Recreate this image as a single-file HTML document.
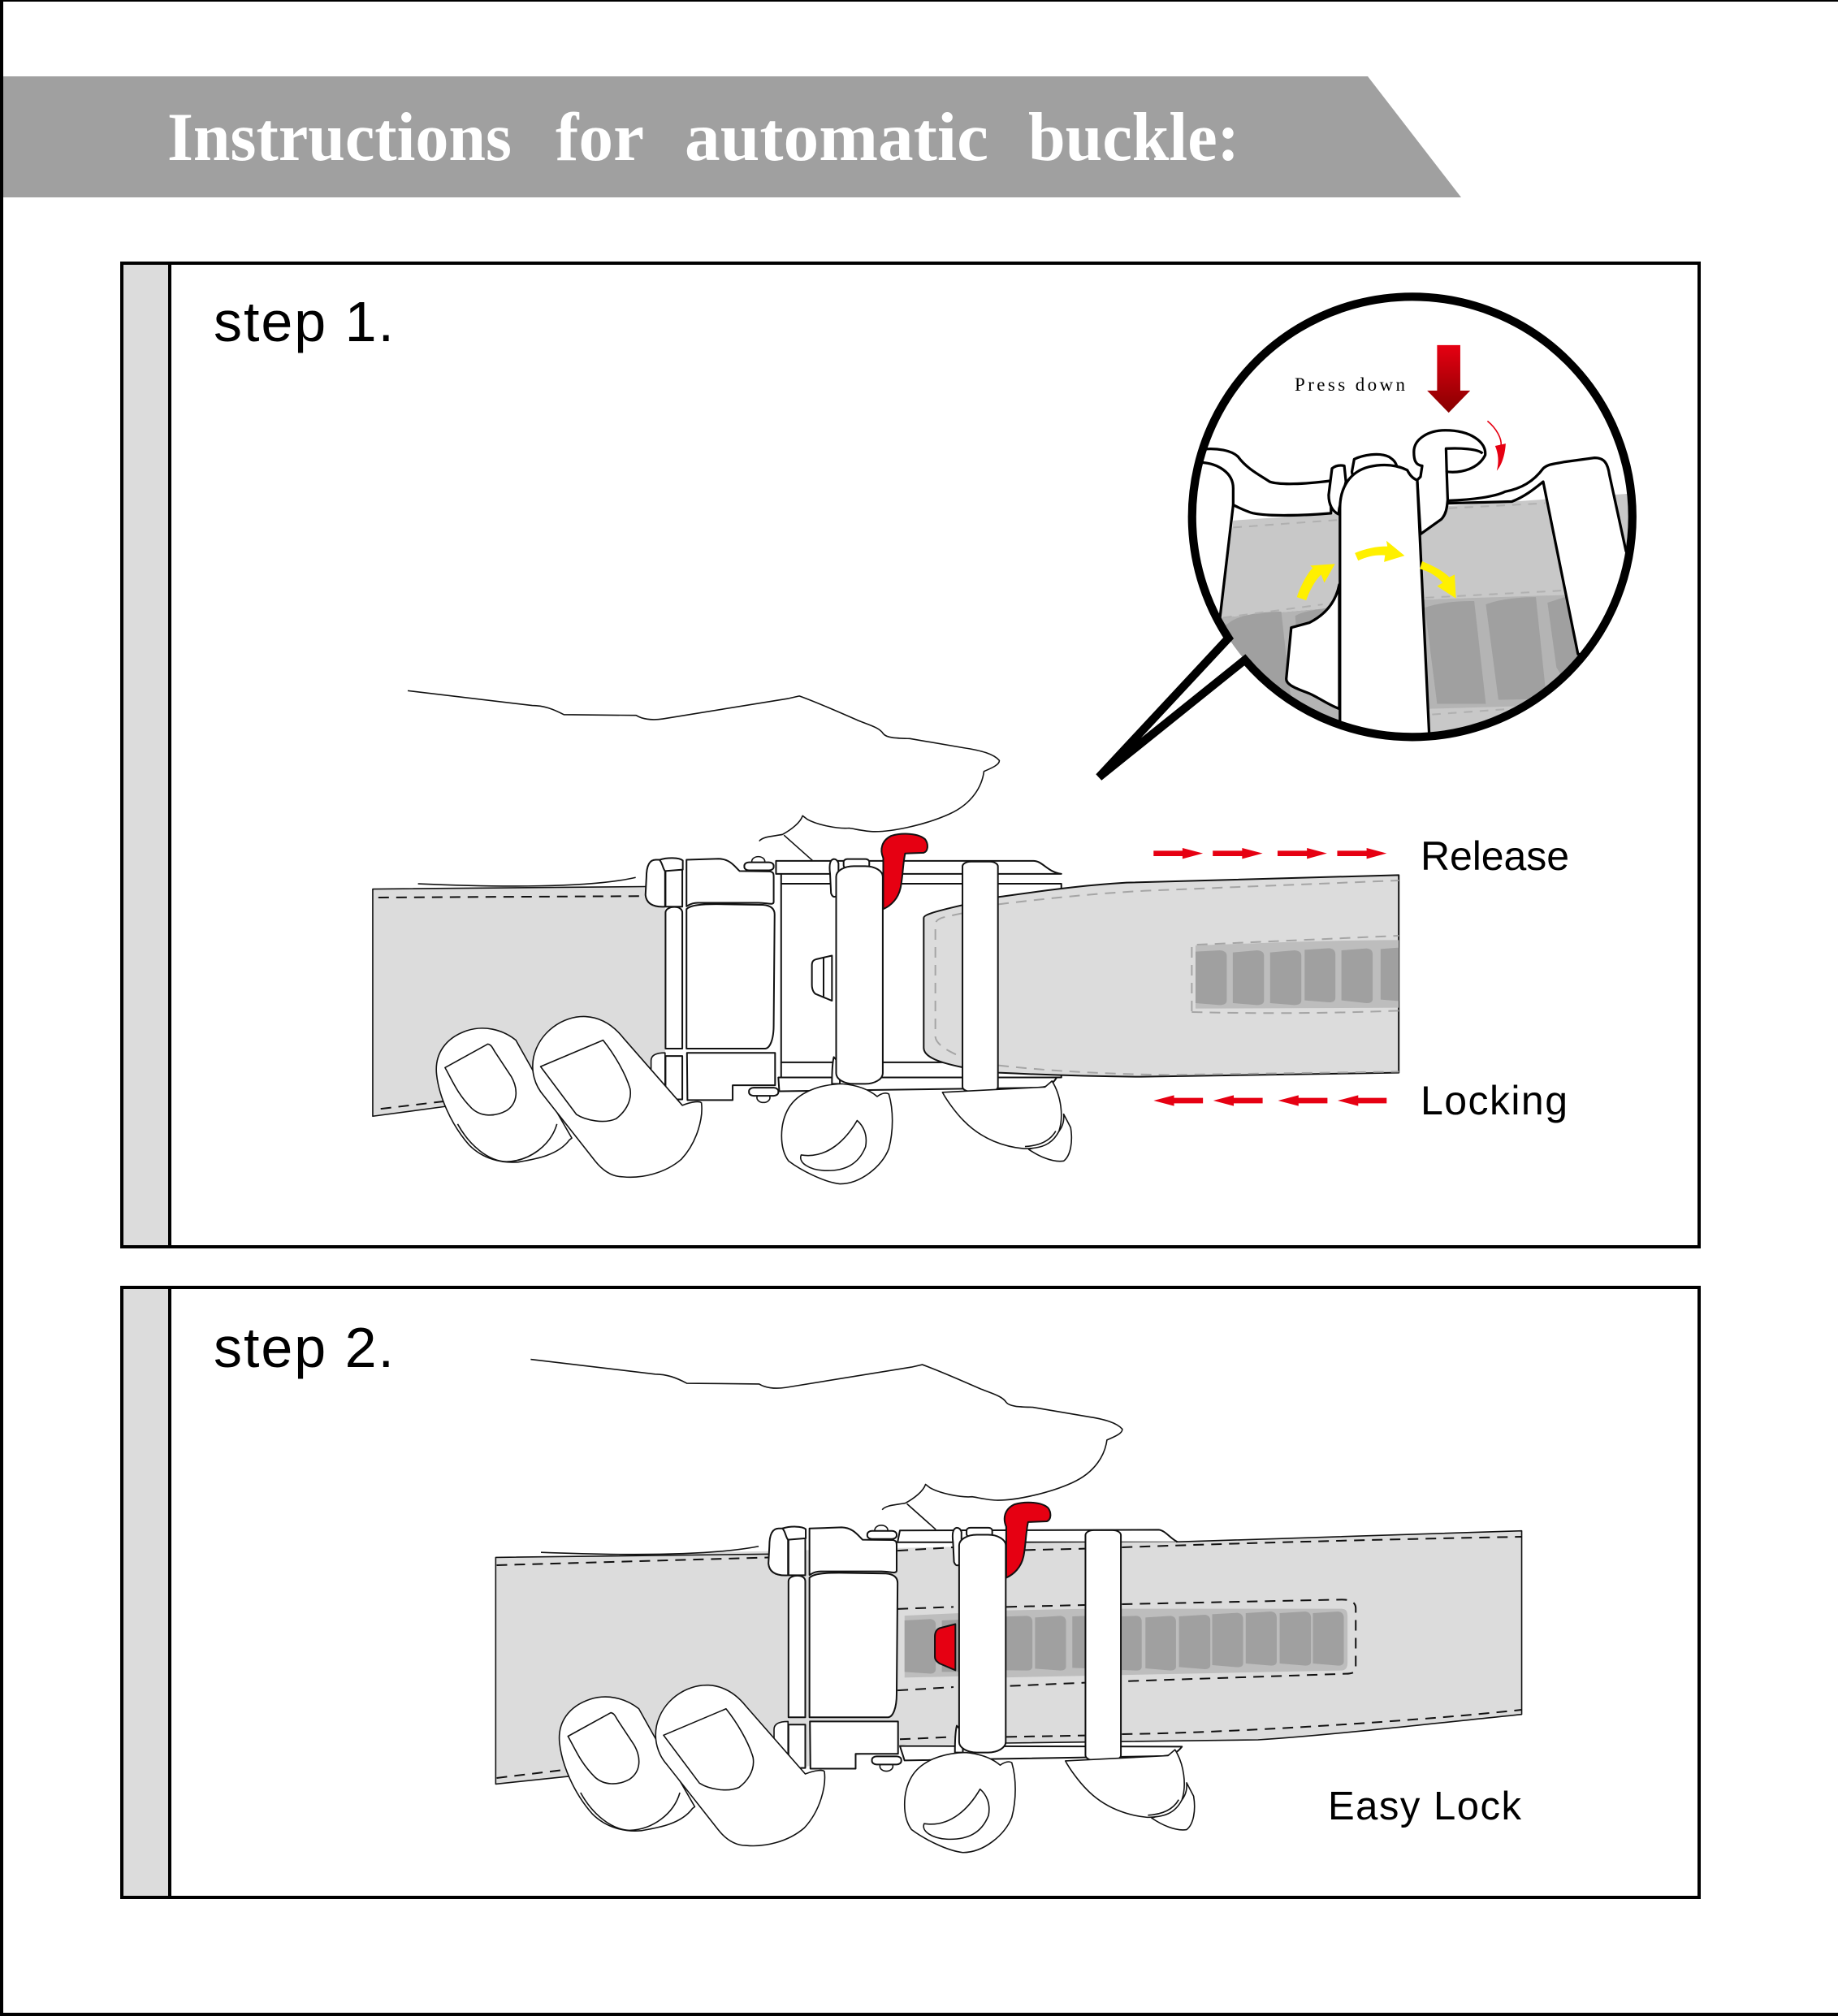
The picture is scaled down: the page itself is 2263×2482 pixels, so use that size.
<!DOCTYPE html>
<html><head><meta charset="utf-8"><style>
html,body{margin:0;padding:0;background:#fff}
svg{display:block}
.l{fill:none;stroke:#111;stroke-width:2;vector-effect:non-scaling-stroke;stroke-linejoin:round}
.t{stroke-width:1.6}
.w{fill:#fff}
.g{fill:#dcdcdc}
.r{fill:#e60012}
.d{fill:none;stroke:#111;stroke-width:2;stroke-dasharray:13 9;vector-effect:non-scaling-stroke}
.e{fill:none;stroke:#a5a5a5;stroke-width:2;stroke-dasharray:13 9;vector-effect:non-scaling-stroke}
.c{fill:#a0a0a0}
.b{fill:#bdbdbd}
text{font-family:"Liberation Sans",sans-serif;fill:#000}
</style></head><body>
<svg xmlns="http://www.w3.org/2000/svg" width="2263" height="2482" viewBox="0 0 2263 2482">
<defs>
<linearGradient id="gr" x1="0" y1="0" x2="0" y2="1"><stop offset="0" stop-color="#e60012"/><stop offset="1" stop-color="#870000"/></linearGradient>
<clipPath id="cc"><circle cx="830" cy="726" r="664"/></clipPath>
<g id="hb" transform="translate(440,820) scale(.574,.4337)">
 <path class="l t w" d="M108 70L375 112C400 112 420 122 443 138L598 140C610 150 630 155 655 150L925 92L948 85C990 105 1040 135 1075 155C1100 168 1120 175 1128 192C1135 205 1160 205 1185 206L1300 232C1340 240 1365 250 1377 268C1378 280 1360 290 1344 299C1340 340 1320 390 1270 420C1220 450 1150 470 1110 470C1090 470 1070 463 1055 460C1030 463 985 450 965 435L955 425C950 445 930 465 912 478C895 483 870 483 862 497"/>
 <path class="l t" d="M915 480L977 553"/>
 <path class="l t w" d="M660 1098C640 1098 630 1105 630 1120L630 1155L660 1200Z"/>
 <rect class="l w" x="661" y="578" width="36" height="105"/>
 <path class="l w" d="M661 700C661 690 670 684 680 684C690 684 697 690 697 700L697 1086L661 1086Z"/>
 <rect class="l w" x="661" y="1107" width="36" height="123"/>
 <path class="l w" d="M640 550C625 550 620 570 620 600L618 650C620 675 635 685 660 683L660 582L652 550Z"/>
 <path class="l w" d="M648 550C665 543 690 543 698 552L698 578L660 582C655 575 655 560 648 550Z"/>
 <path class="l w" d="M706 550L775 547C800 548 810 570 820 582L885 583C893 585 893 590 893 600L893 670C892 680 880 672 860 672L730 672C715 672 710 680 706 682Z"/>
 <path class="l w" d="M706 690C715 678 740 676 770 676L870 678C888 680 895 690 895 705L893 1020C893 1060 885 1085 875 1086L706 1086Z"/>
 <path class="l w" d="M707 1098L896 1098L896 1190L805 1190L805 1232L708 1232Z"/>
 <circle class="l t w" cx="860" cy="555" r="14"/>
 <rect class="l w" x="830" y="557" width="63" height="23" rx="10"/>
 <circle class="l t w" cx="871" cy="1225" r="14"/>
 <rect class="l w" x="840" y="1197" width="63" height="23" rx="10"/>
 <path class="l w" d="M1022 548C1012 550 1012 570 1014 590L1016 645C1020 660 1026 655 1032 650L1032 560C1030 552 1026 548 1022 548Z"/>
 <rect class="l w" x="1043" y="548" width="55" height="26" rx="8"/>
 <path class="l w" d="M1022 1110C1018 1130 1018 1170 1018 1186L1035 1186L1035 1130Z"/>
 <path class="l r" d="M1128 545C1120 520 1125 495 1145 482C1170 472 1205 475 1218 492C1225 505 1225 525 1215 530L1175 532C1170 560 1170 600 1165 630C1160 660 1145 680 1128 690Z"/>
 <rect class="l w" x="1027" y="568" width="100" height="618" rx="38" ry="30"/>
 <rect class="l w" x="1298" y="555" width="76" height="653" rx="18" ry="14"/>
 <path class="l t w" d="M1440 1372C1460 1390 1490 1410 1515 1405C1530 1390 1535 1350 1530 1310L1515 1272C1518 1310 1500 1345 1445 1370Z"/>
 <path class="l t w" d="M1255 1210L1475 1195L1490 1178C1510 1220 1515 1280 1505 1320C1490 1360 1465 1370 1430 1370C1390 1365 1340 1345 1300 1290C1285 1270 1265 1235 1255 1210Z"/>
 <path class="l t" d="M1498 1320C1485 1350 1460 1362 1432 1364"/>
 <path class="l t w" d="M1115 1222C1125 1212 1135 1210 1140 1215C1150 1260 1150 1320 1140 1370C1125 1420 1080 1470 1035 1470C1000 1465 950 1430 925 1405C905 1370 905 1300 925 1255C945 1210 990 1188 1040 1186C1075 1190 1100 1205 1115 1222Z"/>
 <path class="l t" d="M1072 1290C1050 1340 1010 1400 952 1388C945 1410 970 1430 1000 1432C1045 1435 1075 1415 1090 1365C1095 1330 1085 1305 1072 1290Z"/>
 <path class="l t w" d="M373 1140L340 1062C310 1030 270 1020 235 1035C190 1055 165 1100 170 1160C175 1220 200 1300 240 1360C270 1400 310 1412 345 1408C380 1400 430 1390 455 1345L460 1340Z"/>
 <path class="l t" d="M428 1300C415 1360 370 1405 320 1407C280 1405 240 1360 215 1300"/>
 <path class="l t" d="M188 1140L280 1073C288 1075 290 1085 295 1095L330 1165C345 1200 345 1240 320 1262C295 1280 265 1280 245 1255C215 1215 205 1180 188 1140Z"/>
 <path class="l t w" d="M697 1247C720 1235 735 1235 738 1240C742 1280 730 1350 695 1400C660 1440 610 1455 570 1450C545 1450 525 1430 510 1405L400 1220C380 1190 372 1150 378 1110C390 1040 440 992 490 995C530 998 555 1030 570 1055Z"/>
 <path class="l t" d="M393 1137L527 1062C550 1100 575 1155 585 1200C590 1240 570 1270 555 1285C530 1300 490 1290 470 1273Z"/>
</g>
</defs>
<rect width="2263" height="2482" fill="#fff"/>
<rect x="0" y="0" width="2263" height="2" fill="#000"/>
<rect x="0" y="0" width="4" height="2482" fill="#000"/>
<rect x="0" y="2478" width="2263" height="4" fill="#000"/>
<polygon points="4,94 1684,94 1799,243 4,243" fill="#a0a0a0"/>
<g style="font-family:'Liberation Serif',serif;font-weight:bold;font-size:85px">
<text x="206" y="197" textLength="424" lengthAdjust="spacingAndGlyphs" style="fill:#fff;font-family:'Liberation Serif',serif">Instructions</text>
<text x="684" y="197" textLength="109" lengthAdjust="spacingAndGlyphs" style="fill:#fff;font-family:'Liberation Serif',serif">for</text>
<text x="843" y="197" textLength="374" lengthAdjust="spacingAndGlyphs" style="fill:#fff;font-family:'Liberation Serif',serif">automatic</text>
<text x="1266" y="197" textLength="260" lengthAdjust="spacingAndGlyphs" style="fill:#fff;font-family:'Liberation Serif',serif">buckle:</text>
</g>
<rect x="150" y="324" width="1942" height="1211" fill="#fff" stroke="#000" stroke-width="4"/>
<rect x="152" y="326" width="57" height="1207" fill="#dcdcdc"/>
<rect x="207" y="324" width="4" height="1211" fill="#000"/>
<rect x="150" y="1585" width="1942" height="751" fill="#fff" stroke="#000" stroke-width="4"/>
<rect x="152" y="1587" width="57" height="747" fill="#dcdcdc"/>
<rect x="207" y="1585" width="4" height="751" fill="#000"/>
<text x="263" y="420" font-size="70" textLength="222">step 1.</text>
<text x="263" y="1683" font-size="70" textLength="222">step 2.</text>
<text x="1749" y="1071" font-size="50" textLength="183">Release</text>
<text x="1749" y="1372" font-size="50" textLength="181">Locking</text>
<text x="1635" y="2240" font-size="49" textLength="238">Easy Lock</text>

<!-- STEP 1 -->
<g transform="translate(440,820) scale(.574,.4337)">
 <path class="g" d="M33 633L660 624L660 1240L190 1250L33 1278Z"/>
 <path class="l t" d="M190 1250L33 1278L33 633L620 626"/>
 <path class="d" d="M45 657L620 653"/><path class="d" d="M50 1257L190 1235"/>
 <path class="l t" d="M130 618C300 628 500 630 597 600"/>
 <rect class="l w" x="909" y="618" width="601" height="507"/>
 <path class="l w" d="M898 553L1450 553C1470 553 1480 585 1510 590L898 590Z"/>
 <path class="l w" d="M903 1168L1500 1168C1490 1190 1480 1195 1460 1197L905 1207Z"/>
 <path class="l" d="M909 590L909 618M909 1125L909 1168M1510 1125L1510 1168L903 1168"/>
 <path class="l w" d="M1018 822L985 832C977 835 975 840 975 850L975 905C975 920 980 930 985 932L1018 950Z"/>
 <path class="l" d="M1000 828L1000 938"/>
</g>
<g transform="translate(1100,1000) scale(.574,.33333)">
 <path class="g l" d="M65 390C65 380 80 370 148 343L225 313C300 295 400 270 500 260L1084 232L1084 962L530 977C400 975 300 968 225 962L148 942C100 925 65 905 65 870Z"/>
 <path class="e" d="M225 340C320 320 430 300 540 290L1084 252"/>
 <path class="e" d="M148 373L115 385C95 392 90 400 90 420L90 830C92 860 120 885 148 905"/>
 <path class="e" d="M225 935C330 955 450 967 590 970L1084 958"/>
 <path class="b" d="M648 492C800 482 950 472 1084 472L1084 722L648 725Z"/>
 <path class="c" d="M648 515L700 510Q715 512 715 530L715 695Q715 712 700 712L648 705Z"/>
 <path class="c" d="M728 518L780 510Q795 512 795 530L795 695Q795 712 780 712L728 705Z"/>
 <path class="c" d="M808 518L860 510Q875 512 875 530L875 695Q875 712 860 712L808 705Z"/>
 <path class="c" d="M882 508L935 502Q948 505 948 525L948 685Q948 702 935 702L882 695Z"/>
 <path class="c" d="M961 510L1015 503Q1028 505 1028 525L1028 690Q1028 705 1015 705L961 695Z"/>
 <path class="c" d="M1045 505L1084 500L1084 697L1045 692Z"/>
 <path class="e" d="M640 735L640 490L1084 456"/>
 <path class="e" d="M640 738C800 745 950 742 1084 733"/>
 <g class="r">
  <path d="M558 142H620V132L664 152L620 172V162H558Z"/><path d="M685 142H748V132L792 152L748 172V162H685Z"/>
  <path d="M824 142H887V132L930 152L887 172V162H824Z"/><path d="M952 142H1015V132L1058 152L1015 172V162H952Z"/>
  <path d="M664 1055H602V1045L558 1065L602 1085V1075H664Z"/><path d="M792 1055H730V1045L686 1065L730 1085V1075H792Z"/>
  <path d="M931 1055H869V1045L825 1065L869 1085V1075H931Z"/><path d="M1058 1055H997V1045L953 1065L997 1085V1075H1058Z"/>
 </g>
</g>
<use href="#hb"/>

<!-- STEP 2 -->
<g transform="translate(600,1650) scale(.574,.41459)">
 <path class="g" d="M18 645L1100 610L1100 1200L900 1200L640 1280L175 1295L18 1318Z"/>
 <path class="l t" d="M175 1295L18 1318L18 645L610 635"/>
 <path class="l t" d="M115 630C300 640 480 640 582 612"/>
 <path class="d" d="M20 668L610 645"/><path class="d" d="M20 1300L170 1275"/>
 <path class="d" d="M880 625L1000 615"/><path class="d" d="M880 798L1000 792"/><path class="d" d="M880 1040L1000 1030"/><path class="d" d="M885 1185L1000 1178"/>
 <path class="b" d="M895 818L1100 805L1100 995L895 1002Z"/>
 <path class="c" d="M895 832L950 828Q962 830 962 845L962 975Q962 990 950 990L895 985Z"/>
 <path class="c" d="M975 832L1100 825L1100 985L975 985Z"/>
 <path class="l w" d="M885 565L1440 563C1455 565 1465 590 1482 600L880 600Z"/>
 <path class="l w" d="M885 1205L1490 1207C1480 1225 1470 1232 1450 1235L895 1248Z"/>
 <path class="l r" d="M1004 843L970 855C962 860 960 870 960 880L960 940C960 950 965 955 970 960L1004 980Z"/>
</g>
<g transform="translate(1200,1850) scale(.45914,.33333)">
 <path class="g" d="M0 150L540 145L1467 104L1467 780C1200 820 950 860 760 876L400 885L0 890Z"/>
 <path class="l t" d="M540 145L1467 104L1467 782C1300 805 950 860 760 876L80 888"/>
 <path class="d" d="M135 175L295 170"/><path class="d" d="M395 165C700 150 1100 135 1467 126"/>
 <path class="d" d="M85 385L295 378"/><path class="d" d="M395 375L985 358C1015 358 1022 375 1022 390L1022 610C1022 625 1015 632 995 632L395 660"/>
 <path class="d" d="M95 677L295 665"/><path class="d" d="M85 865L295 860"/><path class="d" d="M395 855C700 850 1200 805 1467 765"/>
 <path class="b" d="M0 400L300 392L985 392C998 395 1000 400 1000 430L1000 590C1000 610 995 618 985 620L0 648Z"/>
 <path class="c" d="M0 424L140 418Q155 420 155 440L155 605Q155 620 140 620L0 618Z"/>
 <path class="c" d="M162 424L230 418Q245 420 245 440L245 605Q245 620 230 620L162 613Z"/>
 <path class="c" d="M262 420L300 418L300 612L262 610Z"/>
 <path class="c" d="M395 420L435 418Q448 420 448 440L448 605Q448 620 435 620L395 618Z"/>
 <path class="c" d="M458 424L525 418Q540 420 540 440L540 605Q540 620 525 620L458 612Z"/>
 <path class="c" d="M548 420L617 414Q632 416 632 436L632 600Q632 615 617 615L548 607Z"/>
 <path class="c" d="M637 412L705 407Q720 410 720 430L720 593Q720 608 705 608L637 600Z"/>
 <path class="c" d="M727 408L795 402Q810 405 810 425L810 587Q810 602 795 602L727 594Z"/>
 <path class="c" d="M818 408L887 402Q902 405 902 425L902 587Q902 602 887 602L818 594Z"/>
 <path class="c" d="M907 408L975 402Q990 405 990 425L990 587Q990 602 975 602L907 594Z"/>
</g>
<use href="#hb" transform="translate(151.4,823.2)"/>

<!-- CIRCLE -->
<g transform="translate(1400,340) scale(.40816)">
 <path d="M275.7 1091.6L-115 1511L325.2 1157.4Z" fill="#fff"/>
 <g clip-path="url(#cc)">
  <path fill="#c8c8c8" d="M250 1030L290 737L1500 655L1500 960L870 975Z"/>
  <path fill="#b4b4b4" d="M150 1050L250 1030L870 975L1500 955L1500 1300L880 1310L880 1420L150 1420Z"/>
  <path fill="#c8c8c8" d="M880 1305L1400 1290L1400 1420L880 1420Z"/>
  <path class="c" d="M285 1040C320 1020 380 1012 435 1012L480 1420L200 1420L200 1100Z"/>
  <path class="c" d="M477 1025C500 1010 550 1005 580 1000L560 1060L480 1060Z"/>
  <path class="c" d="M868 1000C910 985 960 980 1017 980L1052 1290L905 1290Z"/>
  <path class="c" d="M1052 990C1090 975 1150 968 1203 968L1235 1275L1090 1278Z"/>
  <path class="c" d="M1238 985L1300 965L1340 1150L1290 1220L1265 1180Z"/>
  <g fill="none" stroke="#b0b0b0" stroke-width="5" stroke-dasharray="26 22">
   <path d="M290 758L610 735"/><path d="M260 1030L560 990"/><path d="M870 970L1290 948"/><path d="M940 700L1230 685"/><path d="M890 1322L1130 1305"/>
  </g>
  <g stroke="#000" stroke-width="8" stroke-linejoin="round" fill="#fff">
   <path d="M250 1040L290 690L150 690L150 1040Z" stroke="none"/>
   <path fill="none" d="M290 690L250 1030"/>
   <path d="M200 522C240 518 285 525 305 545C330 580 370 600 400 620C430 630 500 628 585 617L585 715C500 722 400 725 350 715C330 710 310 700 290 690L290 640C290 590 240 565 195 562Z"/>
   <path d="M610 930C600 980 570 1020 520 1045L465 1060L450 1215C450 1230 470 1240 510 1255C540 1265 570 1290 610 1305Z"/>
   <path d="M588 580C600 570 615 570 625 572L630 620L610 700L608 718C590 710 578 690 578 660Z"/>
   <path d="M648 590L655 552C680 540 730 530 760 545C775 555 780 560 785 578L650 600Z"/>
   <path d="M855 778L918 733C935 715 935 690 937 675L934 590C980 595 1030 580 1050 540C1055 500 1005 465 930 465C880 465 835 490 835 530C835 555 840 570 860 572L855 605L845 615Z"/>
   <path fill="none" d="M934 590L932 520C970 518 1030 520 1042 535"/>
   <path d="M612 1400L612 700C612 640 640 590 700 575C745 565 785 570 815 585C825 605 835 612 845 615L882 1400Z"/>
   <path d="M938 677C1010 675 1080 665 1110 650C1160 640 1195 620 1225 580C1240 565 1270 565 1290 560L1380 548C1410 548 1420 565 1425 600L1475 830L1520 830L1520 1000L1400 1150L1330 1140L1225 620C1200 640 1170 665 1130 680L938 685Z"/>
  </g>
 </g>
 <path d="M275.7 1091.6A664 664 0 0 1 830 62A664 664 0 0 1 1494 726A664 664 0 0 1 830 1390A664 664 0 0 1 325.2 1157.4L-115 1511L275.7 1091.6Z" fill="none" stroke="#000" stroke-width="25" stroke-linejoin="miter" stroke-miterlimit="10"/>
 <path fill="url(#gr)" d="M905 208H975V345H1005L940 412L875 345H905Z"/>
 <path fill="none" stroke="#e60012" stroke-width="4" d="M1057 437C1085 460 1100 490 1098 510"/>
 <path class="r" d="M1080 512L1112 505C1110 540 1100 570 1085 587C1092 560 1090 535 1080 512Z"/>
 <g fill="#fff000">
  <path d="M482 968C495 930 515 895 530 880L522 873L597 868L565 925L555 900C535 920 520 950 510 978Z"/>
  <path d="M657 835C690 822 720 815 755 815L752 798L807 843L745 862L748 842C720 840 695 845 667 858Z"/>
  <path d="M860 860C895 875 925 890 942 908L958 900L962 972L905 935L922 925C905 905 880 890 853 883Z"/>
 </g>
</g>
<text x="1594" y="481" textLength="136" style="font-family:'Liberation Serif',serif;font-size:23px">Press down</text>
</svg>
</body></html>
